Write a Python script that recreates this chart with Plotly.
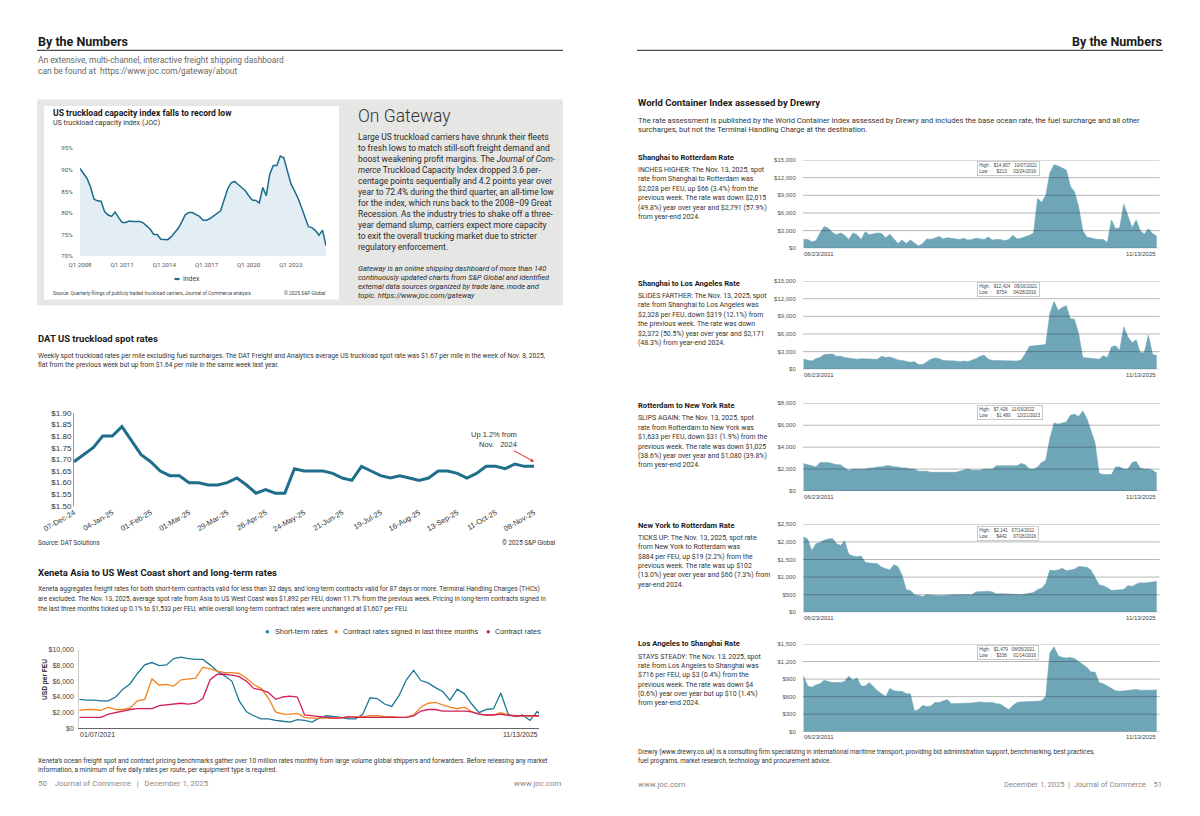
import plotly.graph_objects as go
import pandas as pd

W, H = 1200, 816
TXT = "Roboto"
CHT = "Liberation Sans"

# ---------------- DATA ----------------
tci_quarters = pd.period_range("2008Q1", "2025Q3", freq="Q")
tci_values = [90.3, 89.2, 88.0, 86.0, 83.2, 82.8, 82.7, 80.3, 79.5, 79.2,
              80.2, 78.9, 77.8, 77.8, 78.1, 78.0, 78.0, 78.0, 77.7, 77.0,
              76.2, 75.0, 75.0, 73.9, 73.8, 73.8, 74.5, 75.4, 76.5, 78.0,
              79.6, 80.1, 80.1, 79.6, 79.2, 78.3, 78.3, 78.7, 79.3, 80.1,
              80.5, 83.0, 85.5, 87.0, 87.3, 86.6, 86.0, 85.2, 84.0, 83.0,
              82.9, 82.3, 85.9, 84.0, 89.0, 91.0, 91.0, 93.2, 92.8, 89.5,
              86.8, 85.2, 83.5, 81.3, 79.0, 76.8, 76.6, 75.9, 74.8, 76.0,
              72.4]
tci_tick_quarters = ["2008Q1", "2011Q1", "2014Q1", "2017Q1", "2020Q1", "2023Q1"]
tci_tick_labels = ["Q1 2008", "Q1 2011", "Q1 2014", "Q1 2017", "Q1 2020", "Q1 2023"]

dat_weeks = pd.date_range("2024-12-07", periods=49, freq="7D")
dat_rates = [1.69, 1.72, 1.75, 1.80, 1.80, 1.84, 1.78, 1.72, 1.69, 1.65,
             1.63, 1.63, 1.60, 1.60, 1.59, 1.59, 1.60, 1.62, 1.59, 1.555,
             1.57, 1.555, 1.555, 1.66, 1.65, 1.65, 1.65, 1.64, 1.62, 1.61,
             1.67, 1.65, 1.63, 1.62, 1.63, 1.62, 1.61, 1.62, 1.65, 1.65,
             1.64, 1.62, 1.64, 1.67, 1.67, 1.66, 1.68, 1.67, 1.67]
dat_tick_labels = ["07-Dec-24", "04-Jan-25", "01-Feb-25", "01-Mar-25", "29-Mar-25",
                   "26-Apr-25", "24-May-25", "21-Jun-25", "19-Jul-25", "16-Aug-25",
                   "13-Sep-25", "11-Oct-25", "08-Nov-25"]

xen_dates = list(pd.date_range("2021-01-07", periods=64, freq="28D")) + [pd.Timestamp("2025-11-13")]
xen_short = [3700, 3600, 3600, 3500, 3500, 4000, 5000, 5700, 7000, 8100,
             8400, 8000, 8100, 8900, 9100, 8900, 8800, 8800, 8100, 7300,
             6700, 6000, 3500, 2100, 1600, 1200, 1200, 1000, 900, 800,
             1100, 1000, 800, 1300, 1600, 1500, 1400, 1200, 1200, 1800,
             3900, 3800, 3100, 2800, 4200, 6200, 7400, 6100, 5800, 5200,
             4700, 3600, 5000, 4400, 3100, 2000, 2400, 2500, 4500, 1800,
             1500, 1700, 1000, 2140, 1892]
xen_signed = [2300, 2400, 2400, 2300, 2700, 2400, 2400, 2600, 3500, 3700,
              6300, 5500, 5600, 5400, 6200, 6300, 6400, 7800, 7600, 7300,
              7100, 7100, 7000, 6400, 5600, 5100, 3900, 2100, 1800, 1800,
              1900, 1400, 1300, 1300, 1300, 1300, 1400, 1400, 1500, 1500,
              1600, 1600, 1500, 1500, 1400, 1400, 1700, 2700, 3200, 3300,
              3000, 2700, 2500, 2700, 2100, 1800, 1700, 1700, 2000, 1700,
              1600, 1550, 1550, 1530, 1533]
xen_contract = [1400, 1400, 1400, 1400, 1800, 2000, 2200, 2400, 2500, 2500,
                2500, 2900, 3000, 3100, 3200, 3100, 3200, 3800, 6200, 6900,
                6900, 6800, 6600, 6000, 5100, 4900, 4600, 3700, 4000, 4100,
                4000, 1700, 1600, 1500, 1400, 1300, 1300, 1500, 1400, 1400,
                1400, 1400, 1400, 1400, 1400, 1400, 1600, 2200, 2400, 2400,
                2200, 2200, 2200, 2200, 2100, 1800, 1700, 1700, 1800, 1650,
                1600, 1600, 1600, 1607, 1607]
xen_names = ["Short-term rates", "Contract rates signed in last three months", "Contract rates"]

wci_dates = pd.date_range("2011-07-01", periods=87, freq="2MS")
wci_sh_rtm = [1500, 1500, 1100, 1300, 2600, 3700, 3400, 2700, 2300, 2600,
              2200, 1500, 2600, 2300, 1500, 2800, 2300, 2400, 2600, 2500,
              1800, 2400, 1700, 800, 1400, 800, 1400, 900, 400, 800,
              1600, 1500, 1800, 2000, 1600, 1800, 1700, 1600, 1500, 1700,
              1400, 1500, 1700, 1600, 1500, 1900, 1400, 1500, 1500, 1300,
              1500, 2200, 1600, 1700, 1900, 2200, 2600, 8500, 7800, 9000,
              12800, 14200, 14000, 13600, 13300, 10500, 9600, 7000, 3000, 1900,
              1700, 1600, 1500, 1500, 1000, 4800, 3300, 3500, 7500, 5500,
              3500, 4800, 3000, 2400, 3300, 2500, 2028]
wci_sh_la = [1700, 1500, 1400, 1800, 2000, 2500, 2600, 2600, 2200, 2200,
             2000, 1900, 1800, 1700, 1800, 1800, 1700, 1800, 1700, 2200,
             2000, 2100, 1800, 1600, 1500, 1400, 1200, 1300, 800, 800,
             1300, 1700, 1900, 1800, 1500, 1500, 1400, 1400, 1300, 1400,
             1300, 1500, 1800, 2200, 2400, 1700, 1500, 1500, 1500, 1400,
             1500, 1500, 1400, 1600, 2600, 3900, 4000, 4000, 4100, 4200,
             9500, 11500, 10000, 10500, 10800, 8600, 8500, 6000, 2000, 1900,
             1800, 1700, 1700, 2300, 2000, 3800, 4000, 3200, 7200, 5500,
             4500, 5000, 2800, 2800, 5800, 2500, 2328]
wci_rtm_ny = [2500, 2400, 2300, 2200, 2600, 2600, 2600, 2500, 2400, 2400,
              2100, 1900, 2000, 2000, 2000, 2000, 2100, 2100, 2200, 2200,
              2300, 2300, 2200, 2200, 2100, 2100, 2000, 2000, 1800, 1800,
              1800, 1700, 1700, 1700, 1700, 1700, 1650, 1700, 1800, 1900,
              2000, 1900, 1900, 1900, 2000, 2000, 2000, 2300, 2300, 2300,
              2300, 2300, 2300, 2500, 2400, 2000, 2000, 2200, 2600, 2800,
              4800, 6200, 6100, 6200, 6300, 6900, 7000, 6800, 7300, 6600,
              5600, 4400, 1600, 1500, 1500, 1500, 2200, 2200, 2000, 2000,
              2600, 2700, 2100, 2000, 2000, 1900, 1633]
wci_ny_rtm = [2140, 2080, 1750, 1950, 1980, 2050, 2080, 2100, 1950, 1900,
              2030, 1650, 1600, 1580, 1600, 1420, 1400, 1400, 1380, 1280,
              1250, 1200, 1350, 1300, 1050, 640, 620, 500, 480, 450,
              500, 500, 480, 470, 480, 480, 510, 500, 500, 500,
              500, 500, 580, 590, 590, 600, 580, 520, 530, 520,
              510, 510, 510, 500, 520, 540, 560, 650, 680, 820,
              1200, 1180, 1200, 1250, 1180, 1200, 1220, 1300, 1300, 1280,
              1200, 1000, 780, 750, 700, 620, 630, 640, 650, 760,
              730, 800, 840, 830, 840, 860, 884]
wci_la_sh = [950, 780, 760, 800, 820, 880, 860, 840, 840, 840,
             860, 950, 880, 920, 780, 780, 840, 770, 700, 650,
             600, 740, 700, 690, 690, 650, 650, 350, 380, 450,
             430, 440, 500, 500, 530, 550, 480, 480, 490, 480,
             480, 490, 500, 510, 500, 500, 500, 480, 470, 420,
             380, 450, 500, 510, 510, 510, 510, 520, 530, 600,
             1350, 1450, 1300, 1270, 1260, 1270, 1250, 1200, 1150, 1100,
             1020, 1020, 840, 820, 780, 740, 700, 690, 700, 710,
             720, 720, 710, 710, 700, 710, 716]
wci_series = [wci_sh_rtm, wci_sh_la, wci_rtm_ny, wci_ny_rtm, wci_la_sh]
wci_titles = ["Shanghai to Rotterdam Rate", "Shanghai to Los Angeles Rate",
              "Rotterdam to New York Rate", "New York to Rotterdam Rate",
              "Los Angeles to Shanghai Rate"]
wci_axis_max = [15000, 15000, 8000, 2500, 1500]
wci_axis_step = [3000, 3000, 2000, 500, 300]
wci_high = [("$14,807", "10/07/2021"), ("$12,424", "09/16/2021"), ("$7,426", "11/03/2022"),
            ("$2,141", "07/14/2011"), ("$1,479", "08/05/2021")]
wci_low = [("$313", "03/24/2016"), ("$754", "04/28/2016"), ("$1,480", "12/21/2023"),
           ("$442", "07/28/2016"), ("$336", "01/14/2016")]
wci_text = [
    ["INCHES HIGHER: The Nov. 13, 2025, spot", "rate from Shanghai to Rotterdam was",
     "$2,028 per FEU, up $66 (3.4%) from the", "previous week. The rate was down $2,015",
     "(49.8%) year over year and $2,791 (57.9%)", "from year-end 2024."],
    ["SLIDES FARTHER: The Nov. 13, 2025, spot", "rate from Shanghai to Los Angeles was",
     "$2,328 per FEU, down $319 (12.1%) from", "the previous week. The rate was down",
     "$2,372 (50.5%) year over year and $2,171", "(48.3%) from year-end 2024."],
    ["SLIPS AGAIN: The Nov. 13, 2025, spot", "rate from Rotterdam to New York was",
     "$1,633 per FEU, down $31 (1.9%) from the", "previous week. The rate was down $1,025",
     "(38.6%) year over year and $1,080 (39.8%)", "from year-end 2024."],
    ["TICKS UP: The Nov. 13, 2025, spot rate", "from New York to Rotterdam was",
     "$884 per FEU, up $19 (2.2%) from the", "previous week. The rate was up $102",
     "(13.0%) year over year and $60 (7.3%) from", "year-end 2024."],
    ["STAYS STEADY: The Nov. 13, 2025, spot", "rate from Los Angeles to Shanghai was",
     "$716 per FEU, up $3 (0.4%) from the", "previous week. The rate was down $4",
     "(0.6%) year over year but up $10 (1.4%)", "from year-end 2024."],
]

# ---------------- helpers ----------------
def px(x):
    return x / W

def py(y):
    return 1 - y / H

def dom_x(a, b):
    return [a / W, b / W]

def dom_y(top, bottom):
    return [1 - bottom / H, 1 - top / H]

annotations = []
shapes = []
NOTICK = "rgba(0,0,0,0)"

def T(x, y, s, size=7, color="#333", bold=False, italic=False, anchor="left",
      family=TXT, weight=None, angle=0):
    if bold:
        s = "<b>" + s + "</b>"
    if italic:
        s = "<i>" + s + "</i>"
    f = dict(size=size, color=color, family=family)
    if weight:
        f["weight"] = weight
    annotations.append(dict(x=px(x), y=py(y), xref="paper", yref="paper", text=s,
                            showarrow=False, xanchor=anchor, yanchor="middle",
                            font=f, borderpad=0, textangle=angle))

def rect(x0, y0, x1, y1, fill):
    shapes.append(dict(type="rect", xref="paper", yref="paper", x0=px(x0), x1=px(x1),
                       y0=py(y0), y1=py(y1), fillcolor=fill, line=dict(width=0), layer="below"))

def hline(x0, x1, y, color="#222", width=1):
    shapes.append(dict(type="line", xref="paper", yref="paper", x0=px(x0), x1=px(x1),
                       y0=py(y), y1=py(y), line=dict(color=color, width=width)))

fig = go.Figure()
layout = {}

# ---------------- left page header ----------------
T(37, 41, "By the Numbers", 12.5, "#1a1a1a", bold=True)
hline(37, 563, 50.3, "#222", 1)
T(37, 59.7, "An extensive, multi-channel, interactive freight shipping dashboard", 8.4, "#666")
T(37, 70.5, "can be found at\u00a0 https://www.joc.com/gateway/about", 8.4, "#666")

rect(37, 99.5, 563, 305.5, "#e6e6e4")
rect(44, 106, 339, 299.5, "#ffffff")

# ---------------- truckload capacity chart ----------------
tci_x = tci_quarters.to_timestamp()
fig.add_trace(go.Scatter(x=tci_x, y=tci_values, mode="lines", name="Index",
                         line=dict(color="#1b6c89", width=1.5), fill="tozeroy",
                         fillcolor="#e2eef3", xaxis="x", yaxis="y", showlegend=False))
layout["xaxis"] = dict(domain=dom_x(80, 326), range=[tci_x[0], tci_x[-1]], anchor="y",
                       tickvals=[pd.Period(q).to_timestamp() for q in tci_tick_quarters],
                       ticktext=tci_tick_labels, showgrid=False, zeroline=False, showline=False,
                       ticks="outside", ticklen=3, tickcolor=NOTICK, automargin=False,
                       tickfont=dict(size=6.2, color="#555", family=TXT))
layout["yaxis"] = dict(domain=dom_y(148.3, 256), range=[70, 95], dtick=5, anchor="x",
                       ticksuffix="%", showgrid=False, zeroline=False, showline=False,
                       ticks="outside", ticklen=5, tickcolor=NOTICK, automargin=False,
                       tickfont=dict(size=6.2, color="#555", family=TXT))
T(52, 113.3, "US truckload capacity index falls to record low", 8.6, "#1a1a1a", bold=True)
T(52, 122.3, "US truckload capacity index (JOC)", 7.1, "#333")
shapes.append(dict(type="line", xref="paper", yref="paper", x0=px(174.5), x1=px(179.5),
                   y0=py(279), y1=py(279), line=dict(color="#1b6c89", width=2.2)))
T(182, 279, "Index", 6.8, "#444")
T(51.5, 293.3, "Source: Quarterly filings of publicly traded truckload carriers, Journal of Commerce analysis",
  4.9, "#444")
T(326, 293.3, "\u00a9 2025 S&P Global", 4.9, "#444", anchor="right")

# ---------------- On Gateway ----------------
T(356.5, 115.7, "On Gateway", 17.5, "#333", weight=300)
gw_lines = [
    "Large US truckload carriers have shrunk their fleets",
    "to fresh lows to match still-soft freight demand and",
    "boost weakening profit margins. The <i>Journal of Com-</i>",
    "<i>merce</i> Truckload Capacity Index dropped 3.6 per-",
    "centage points sequentially and 4.2 points year over",
    "year to 72.4% during the third quarter, an all-time low",
    "for the index, which runs back to the 2008\u201309 Great",
    "Recession. As the industry tries to shake off a three-",
    "year demand slump, carriers expect more capacity",
    "to exit the overall trucking market due to stricter",
    "regulatory enforcement.",
]
for i, s in enumerate(gw_lines):
    T(356.5, 136.7 + 11 * i, s, 8.45, "#2a2a2a")
gw_it = [
    "Gateway is an online shipping dashboard of more than 140",
    "continuously updated charts from S&P Global and identified",
    "external data sources organized by trade lane, mode and",
    "topic. https://www.joc.com/gateway",
]
for i, s in enumerate(gw_it):
    T(356.5, 268.3 + 9 * i, s, 7.45, "#2a2a2a", italic=True)

# ---------------- DAT ----------------
T(37, 338.3, "DAT US truckload spot rates", 9.5, "#1a1a1a", bold=True)
T(37, 355.7, "Weekly spot truckload rates per mile excluding fuel surcharges. The DAT Freight and Analytics average US truckload spot rate was $1.67 per mile in the week of Nov. 8, 2025,", 6.65, "#333")
T(37, 365.3, "flat from the previous week but up from $1.64 per mile in the same week last year.", 6.65, "#333")
fig.add_trace(go.Scatter(x=dat_weeks, y=dat_rates, mode="lines", name="DAT",
                         line=dict(color="#1f6e8c", width=3), xaxis="x2", yaxis="y2",
                         showlegend=False))
layout["xaxis2"] = dict(domain=dom_x(74, 534), range=[dat_weeks[0], dat_weeks[-1]], anchor="y2",
                        tickvals=list(dat_weeks[::4]), ticktext=dat_tick_labels, tickangle=-30,
                        showgrid=False, zeroline=False, showline=False, ticks="", automargin=False,
                        tickfont=dict(size=7.5, color="#333", family=CHT))
layout["yaxis2"] = dict(domain=dom_y(412.7, 506), range=[1.5, 1.9], dtick=0.05, anchor="x2",
                        tickformat="$.2f", showgrid=False, zeroline=False, showline=True,
                        linecolor="#999", linewidth=1, ticks="", automargin=False,
                        tickfont=dict(size=8, color="#333", family=CHT))
annotations.append(dict(x=dat_weeks[-1], y=1.69, xref="x2", yref="y2",
                        text="Up 1.2% from<br>Nov.\u00a0\u00a0\u00a02024", showarrow=True,
                        arrowhead=2, arrowsize=0.7, arrowwidth=1, arrowcolor="#e0281e",
                        ax=-40, ay=-22, align="right", standoff=0,
                        font=dict(size=7.5, color="#333", family=CHT)))
T(37, 543.3, "Source: DAT Solutions", 6.3, "#333")
T(556.8, 543.3, "\u00a9 2025 S&P Global", 6.3, "#333", anchor="right")

# ---------------- Xeneta ----------------
T(37, 572.3, "Xeneta Asia to US West Coast short and long-term rates", 9.5, "#1a1a1a", bold=True)
xen_desc = [
    "Xeneta aggregates freight rates for both short-term contracts valid for less than 32 days, and long-term contracts valid for 87 days or more. Terminal Handling Charges (THCs)",
    "are excluded. The Nov. 13, 2025, average spot rate from Asia to US West Coast was $1,892 per FEU, down 11.7% from the previous week. Pricing in long-term contracts signed in",
    "the last three months ticked up 0.1% to $1,533 per FEU, while overall long-term contract rates were unchanged at $1,607 per FEU.",
]
for i, s in enumerate(xen_desc):
    T(37, 589.3 + 9.7 * i, s, 6.5, "#333")
xen_colors = ["#1b7896", "#f28322", "#d21f5b"]
for name, vals, col in zip(xen_names, [xen_short, xen_signed, xen_contract], xen_colors):
    fig.add_trace(go.Scatter(x=xen_dates, y=vals, mode="lines", name=name,
                             line=dict(color=col, width=1.3), xaxis="x3", yaxis="y3",
                             showlegend=False))
layout["xaxis3"] = dict(domain=dom_x(79.3, 539), range=[xen_dates[0], xen_dates[-1]], anchor="y3",
                        showticklabels=False, showgrid=False, zeroline=False, showline=True,
                        linecolor="#666", linewidth=1, ticks="", automargin=False)
layout["yaxis3"] = dict(domain=dom_y(650, 728.3), range=[0, 10000], dtick=2000, anchor="x3",
                        tickprefix="$", tickformat=",", showgrid=False, zeroline=False,
                        showline=True, linecolor="#ccc", linewidth=1,
                        ticks="outside", ticklen=3, tickcolor=NOTICK, automargin=False,
                        tickfont=dict(size=7, color="#444", family=CHT))
leg_pos = [(267.5, 274), (336, 342), (489, 493.5)]
for (dx, tx), name, col in zip(leg_pos, xen_names, xen_colors):
    T(dx, 631.7, "\u25cf", 7.5, col, anchor="center", family=CHT)
    T(tx, 631.7, name, 7.3, "#333", family=CHT)
T(45, 680, "USD per FEU", 6.6, "#222", bold=True, anchor="center", family=CHT, angle=-90)
T(79.3, 734.3, "01/07/2021", 7, "#333", family=CHT)
T(539, 734.3, "11/13/2025", 7, "#333", family=CHT, anchor="right")
T(37, 760.7, "Xeneta\u2019s ocean freight spot and contract pricing benchmarks gather over 10 million rates monthly from large volume global shippers and forwarders. Before releasing any market", 6.5, "#333")
T(37, 770.2, "information, a minimum of five daily rates per route, per equipment type is required.", 6.5, "#333")

# left footer
T(37, 783.7, "50\u00a0\u00a0\u00a0\u00a0Journal of Commerce\u00a0\u00a0 |\u00a0\u00a0 December 1, 2025", 7.9, "#888")
T(563, 783.7, "www.joc.com", 7.9, "#888", anchor="right")

# ---------------- right page ----------------
T(1163, 41, "By the Numbers", 12.5, "#1a1a1a", bold=True, anchor="right")
hline(637, 1163, 50.3, "#222", 1)
T(637, 102.7, "World Container Index assessed by Drewry", 9.5, "#1a1a1a", bold=True)
T(637, 120, "The rate assessment is published by the World Container Index assessed by Drewry and includes the base ocean rate, the fuel surcharge and all other", 7.6, "#333")
T(637, 129.5, "surcharges, but not the Terminal Handling Charge at the destination.", 7.6, "#333")

wci_top = [160, 281, 403.3, 524.3, 644]
wci_bottom = [248.3, 369.3, 491, 612.3, 731.7]
wci_title_y = [157.3, 283.3, 405.7, 525.3, 643.7]
for k in range(5):
    n = k + 4
    fig.add_trace(go.Scatter(x=wci_dates, y=wci_series[k], mode="lines", name=wci_titles[k],
                             line=dict(color="#6ea6b7", width=0.6), fill="tozeroy",
                             fillcolor="#6ea6b7", xaxis=f"x{n}", yaxis=f"y{n}",
                             showlegend=False))
    layout[f"xaxis{n}"] = dict(domain=dom_x(803, 1157.5), range=["2011-06-23", "2025-11-13"],
                               anchor=f"y{n}", showticklabels=False, showgrid=False,
                               zeroline=False, showline=False, ticks="", automargin=False)
    layout[f"yaxis{n}"] = dict(domain=dom_y(wci_top[k], wci_bottom[k]),
                               range=[0, wci_axis_max[k]], dtick=wci_axis_step[k],
                               anchor=f"x{n}", tickprefix="$", tickformat=",", showgrid=False,
                               zeroline=False, showline=False,
                               ticks="outside", ticklen=5, tickcolor=NOTICK, automargin=False,
                               tickfont=dict(size=6, color="#555", family=CHT))
    v = 0
    while v <= wci_axis_max[k]:
        shapes.append(dict(type="line", xref=f"x{n} domain", yref=f"y{n}", x0=0, x1=1.006,
                           y0=v, y1=v, line=dict(color="rgba(40,40,40,0.42)", width=0.8),
                           layer="above"))
        v += wci_axis_step[k]
    T(803.3, wci_bottom[k] + 5.6, "06/23/2011", 6, "#444", family=CHT)
    T(1157, wci_bottom[k] + 5.6, "11/13/2025", 6, "#444", family=CHT, anchor="right")
    hi, lo = wci_high[k], wci_low[k]
    box_txt = ("High:\u00a0\u00a0\u00a0" + hi[0] + "\u00a0\u00a0\u00a0" + hi[1] + "<br>"
               + "Low\u00a0\u00a0:\u00a0\u00a0\u00a0\u00a0" + lo[0] + "\u00a0\u00a0\u00a0\u00a0\u00a0" + lo[1])
    annotations.append(dict(x=px(977), y=py(wci_top[k] + 1.2), xref="paper", yref="paper",
                            text=box_txt, showarrow=False, xanchor="left", yanchor="top",
                            align="left", bgcolor="#ffffff", bordercolor="#b5b5b5",
                            borderwidth=0.7, borderpad=1.5,
                            font=dict(size=4.6, color="#444", family=CHT)))
    T(637, wci_title_y[k], wci_titles[k], 7.6, "#1a1a1a", bold=True)
    for i, s in enumerate(wci_text[k]):
        T(637, wci_title_y[k] + 12.8 + 9.35 * i, s, 6.95, "#333")

T(637, 752, "Drewry (www.drewry.co.uk) is a consulting firm specializing in international maritime transport, providing bid administration support, benchmarking, best practices,", 6.35, "#333")
T(637, 761.3, "fuel programs, market research, technology and procurement advice.", 6.35, "#333")
T(637, 784, "www.joc.com", 7.9, "#888")
T(1163, 784, "December 1, 2025\u00a0 |\u00a0 Journal of Commerce\u00a0\u00a0\u00a0 51", 7.5, "#888", anchor="right")

fig.update_layout(width=W, height=H, autosize=False,
                  margin=dict(l=0, r=0, t=0, b=0, pad=0, autoexpand=False),
                  paper_bgcolor="#ffffff", plot_bgcolor="rgba(0,0,0,0)", showlegend=False,
                  annotations=annotations, shapes=shapes, hovermode=False, **layout)
fig.write_html("out.html", config={"displayModeBar": False},
               post_script="document.body.style.margin='0px';document.body.style.padding='0px';")
